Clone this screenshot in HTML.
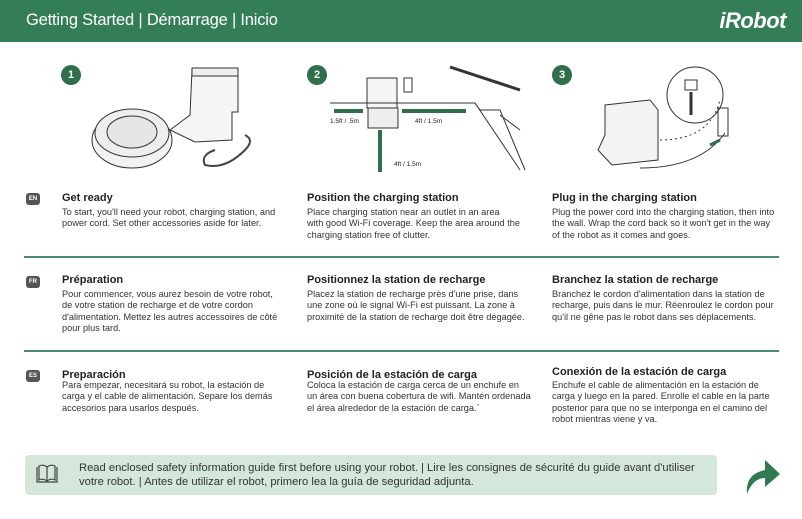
<!DOCTYPE html>
<html><head><meta charset="utf-8"><style>
*{margin:0;padding:0;box-sizing:border-box}
body{width:802px;height:519px;background:#fff;font-family:"Liberation Sans",sans-serif;color:#222;position:relative;overflow:hidden}
.hdr{position:absolute;left:0;top:0;width:802px;height:42px;background:#347e57}
.hdr .t{position:absolute;left:26px;top:11px;color:#fff;font-size:16.5px;letter-spacing:-0.2px}
.hdr .l{position:absolute;right:16px;top:8px;color:#fff;font-size:22px;font-weight:bold;font-style:italic;letter-spacing:-0.5px}
.a{position:absolute}
.ti{font-size:11px;font-weight:bold;color:#222;white-space:nowrap}
.bd{font-size:9.2px;line-height:11.4px;color:#333;white-space:nowrap}
.bg{position:absolute;left:26px;width:14px;height:12px;background:#555;border-radius:3px;color:#fff;font-size:6px;font-weight:bold;text-align:center;line-height:12px}
.hr{position:absolute;left:24px;width:755px;height:2px;background:#4b8d6a}
.num{position:absolute;width:20px;height:20px;border-radius:50%;background:#2f6f4b;color:#fff;font-size:11px;font-weight:bold;text-align:center;line-height:20px}
</style></head><body>
<div class="hdr"><div class="t">Getting Started | Démarrage | Inicio</div><div class="l">iRobot</div></div>
<div class="num" style="left:61px;top:65px">1</div>
<div class="num" style="left:307px;top:65px">2</div>
<div class="num" style="left:552px;top:65px">3</div>
<svg class="a" style="left:0;top:55px" width="802" height="125" viewBox="0 55 802 125" fill="none" stroke="#333" stroke-width="1">
<ellipse cx="132" cy="140" rx="40" ry="28" fill="#f2f2f2"/>
<ellipse cx="132" cy="133" rx="37" ry="24" fill="#eee"/>
<ellipse cx="132" cy="132" rx="25" ry="16" fill="#e6e6e6"/>
<path d="M192 70 L238 70 L238 112 L232 112 L232 140 L195 142 L170 130 L190 115 Z" fill="#f5f5f5"/>
<rect x="192" y="68" width="46" height="8" fill="#eee"/>
<path d="M215 150 q-15 5 -10 15 q20 5 40 -15 q10 -10 0 -15" stroke="#444" stroke-width="2"/>
<line x1="450" y1="67" x2="520" y2="90" stroke-width="3"/>
<rect x="367" y="78" width="30" height="30" fill="#f5f5f5"/>
<rect x="404" y="78" width="8" height="14"/>
<path d="M330 103 L475 103 L480 110 L500 110 L525 170 M475 103 L520 170 M500 115 L520 130"/>
<path d="M368 108 L398 108 L398 128 L368 128 Z" fill="#eee"/>
<path d="M334 111 L363 111" stroke="#2f6f4b" stroke-width="4"/>
<path d="M402 111 L466 111" stroke="#2f6f4b" stroke-width="4"/>
<path d="M380 130 L380 172" stroke="#2f6f4b" stroke-width="4"/>
<path d="M605 105 L650 100 L658 110 L658 160 L612 165 L598 150 L605 135 Z" fill="#f3f3f3"/>
<circle cx="695" cy="95" r="28" fill="#fff"/>
<rect x="685" y="80" width="12" height="10"/>
<path d="M691 92 L691 115" stroke-width="3"/>
<path d="M660 140 q50 0 60 -40" stroke-dasharray="2 3"/>
<path d="M640 168 q60 0 85 -35"/>
<rect x="718" y="108" width="10" height="28"/>
<path d="M720 140 L710 145" stroke="#2f6f4b" stroke-width="3"/>
</svg>
<div class="a" style="left:330px;top:118px;font-size:6.5px">1.5ft / .5m</div>
<div class="a" style="left:415px;top:118px;font-size:6.5px">4ft / 1.5m</div>
<div class="a" style="left:394px;top:161px;font-size:6.5px">4ft / 1.5m</div>

<div class="bg" style="top:193px">EN</div>
<div class="a ti" style="left:62px;top:192px">Get ready</div>
<div class="a bd" style="left:62px;top:207px">To start, you'll need your robot, charging station, and<br>power cord. Set other accessories aside for later.</div>
<div class="a ti" style="left:307px;top:192px">Position the charging station</div>
<div class="a bd" style="left:307px;top:207px">Place charging station near an outlet in an area<br>with good Wi-Fi coverage. Keep the area around the<br>charging station free of clutter.</div>
<div class="a ti" style="left:552px;top:192px">Plug in the charging station</div>
<div class="a bd" style="left:552px;top:207px">Plug the power cord into the charging station, then into<br>the wall. Wrap the cord back so it won't get in the way<br>of the robot as it comes and goes.</div>
<div class="hr" style="top:256px"></div>

<div class="bg" style="top:276px">FR</div>
<div class="a ti" style="left:62px;top:274px">Préparation</div>
<div class="a bd" style="left:62px;top:289px">Pour commencer, vous aurez besoin de votre robot,<br>de votre station de recharge et de votre cordon<br>d'alimentation. Mettez les autres accessoires de côté<br>pour plus tard.</div>
<div class="a ti" style="left:307px;top:274px">Positionnez la station de recharge</div>
<div class="a bd" style="left:307px;top:289px">Placez la station de recharge près d'une prise, dans<br>une zone où le signal Wi-Fi est puissant. La zone à<br>proximité de la station de recharge doit être dégagée.</div>
<div class="a ti" style="left:552px;top:274px">Branchez la station de recharge</div>
<div class="a bd" style="left:552px;top:289px">Branchez le cordon d'alimentation dans la station de<br>recharge, puis dans le mur. Réenroulez le cordon pour<br>qu'il ne gêne pas le robot dans ses déplacements.</div>
<div class="hr" style="top:350px"></div>

<div class="bg" style="top:370px">ES</div>
<div class="a ti" style="left:62px;top:369px">Preparación</div>
<div class="a bd" style="left:62px;top:380px">Para empezar, necesitará su robot, la estación de<br>carga y el cable de alimentación. Separe los demás<br>accesorios para usarlos después.</div>
<div class="a ti" style="left:307px;top:369px">Posición de la estación de carga</div>
<div class="a bd" style="left:307px;top:380px">Coloca la estación de carga cerca de un enchufe en<br>un área con buena cobertura de wifi. Mantén ordenada<br>el área alrededor de la estación de carga.`</div>
<div class="a ti" style="left:552px;top:366px">Conexión de la estación de carga</div>
<div class="a bd" style="left:552px;top:380px">Enchufe el cable de alimentación en la estación de<br>carga y luego en la pared. Enrolle el cable en la parte<br>posterior para que no se interponga en el camino del<br>robot mientras viene y va.</div>

<div class="a" style="left:25px;top:455px;width:692px;height:40px;background:#d5e6db;border-radius:4px"></div>
<svg class="a" style="left:36px;top:464px" width="22" height="20" viewBox="0 0 22 20" fill="none" stroke="#444" stroke-width="1.2"><path d="M1 3 L1 18 L21 18 L21 3 M3 2 L3 16 Q7 14 11 17 Q15 14 19 16 L19 2 Q15 0 11 3 Q7 0 3 2 Z M11 3 L11 17"/></svg>
<div class="a" style="left:79px;top:461px;font-size:11.2px;line-height:14px;color:#333;white-space:nowrap">Read enclosed safety information guide first before using your robot. | Lire les consignes de sécurité du guide avant d'utiliser<br>votre robot. | Antes de utilizar el robot, primero lea la guía de seguridad adjunta.</div>
<svg class="a" style="left:743px;top:456px" width="40" height="40" viewBox="0 0 40 40"><path d="M4 38 Q2 18 22 14 L22 4 L37 18 L22 31 L22 22 Q10 22 4 38 Z" fill="#2f7a50"/></svg>
</body></html>
